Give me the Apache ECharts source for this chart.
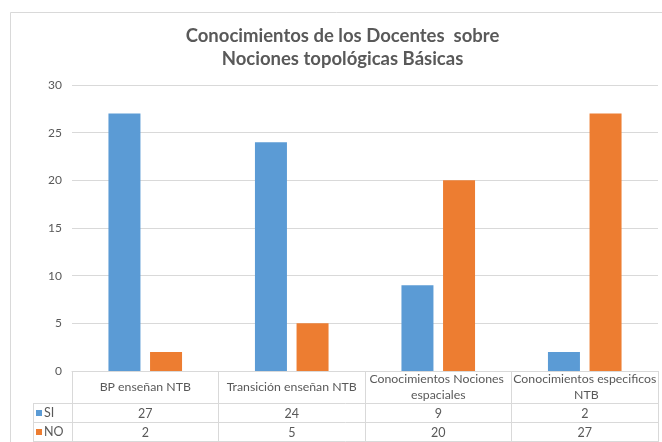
<!DOCTYPE html>
<html><head><meta charset="utf-8">
<script src="https://cdn.jsdelivr.net/npm/echarts@6/dist/echarts.min.js"></script>
<style>html,body{margin:0;padding:0;background:#fff}#c{width:662px;height:442px}</style>
</head><body><div id="c"></div>
<script>
const categories = ['BP enseñan NTB', 'Transición enseñan NTB', 'Conocimientos Nociones espaciales', 'Conocimientos especificos NTB'];
const siValues = [27, 24, 9, 2];
const noValues = [2, 5, 20, 27];
const seriesNames = ['SI', 'NO'];
const yMin = 0, yMax = 30, yStep = 5;

const BLUE = '#5b9bd5', ORANGE = '#ed7d31', TXT = '#595959', LINE = '#d9d9d9';
const FONT = 'Lato';

const chart = echarts.init(document.getElementById('c'), null, {renderer: 'canvas'});
const valueAxis = (vals, off) => ({
  type: 'category', data: vals.map(String), position: 'bottom', offset: off,
  axisLine: {show: false}, axisTick: {show: false}, splitLine: {show: false},
  axisLabel: {interval: 0, margin: 0, verticalAlign: 'middle', color: TXT, fontSize: 12.5, fontFamily: FONT}
});
chart.setOption({
  animation: false,
  backgroundColor: '#fff',
  title: {
    text: 'Conocimientos de los Docentes  sobre\nNociones topológicas Básicas',
    left: 337.5, top: 20, textAlign: 'center',
    textStyle: {fontFamily: FONT, fontWeight: 'bold', fontSize: 18.5, color: TXT, lineHeight: 23}
  },
  grid: {left: 72, right: 4, top: 85, bottom: 71, containLabel: false},
  xAxis: [
    {
      type: 'category', data: categories,
      axisLine: {show: true, lineStyle: {color: LINE}},
      axisTick: {show: true, length: 71, lineStyle: {color: LINE}},
      axisLabel: {interval: 0, margin: 16, width: 145, overflow: 'break', lineHeight: 16,
        verticalAlign: 'middle', color: TXT, fontSize: 12.3, fontFamily: FONT}
    },
    valueAxis(siValues, 43),
    valueAxis(noValues, 62)
  ],
  yAxis: {
    type: 'value', min: yMin, max: yMax, interval: yStep,
    axisLine: {show: false}, axisTick: {show: false},
    splitLine: {lineStyle: {color: LINE}},
    axisLabel: {margin: 10, color: TXT, fontSize: 12, fontFamily: FONT}
  },
  series: [
    {name: seriesNames[0], type: 'bar', data: siValues, xAxisIndex: 0, barWidth: 32, barGap: '30%', itemStyle: {color: BLUE}},
    {name: seriesNames[1], type: 'bar', data: noValues, xAxisIndex: 0, barWidth: 32, itemStyle: {color: ORANGE}}
  ],
  graphic: [
    {type: 'rect', shape: {x: 10.5, y: 12.5, width: 700, height: 500}, style: {fill: null, stroke: LINE, lineWidth: 1}, silent: true},
    {type: 'line', shape: {x1: 33, y1: 403.5, x2: 658, y2: 403.5}, style: {stroke: LINE, lineWidth: 1}},
    {type: 'line', shape: {x1: 33, y1: 422.5, x2: 658, y2: 422.5}, style: {stroke: LINE, lineWidth: 1}},
    {type: 'line', shape: {x1: 33, y1: 441.5, x2: 658, y2: 441.5}, style: {stroke: LINE, lineWidth: 1}},
    {type: 'line', shape: {x1: 33.5, y1: 403.5, x2: 33.5, y2: 442}, style: {stroke: LINE, lineWidth: 1}},
    {type: 'rect', shape: {x: 36, y: 410, width: 6, height: 6}, style: {fill: BLUE}},
    {type: 'text', x: 44, y: 413, style: {text: seriesNames[0], fill: TXT, font: '12.5px ' + FONT, verticalAlign: 'middle'}},
    {type: 'rect', shape: {x: 36, y: 429, width: 6, height: 6}, style: {fill: ORANGE}},
    {type: 'text', x: 44, y: 432, style: {text: seriesNames[1], fill: TXT, font: '12.5px ' + FONT, verticalAlign: 'middle'}}
  ]
});
</script></body></html>
